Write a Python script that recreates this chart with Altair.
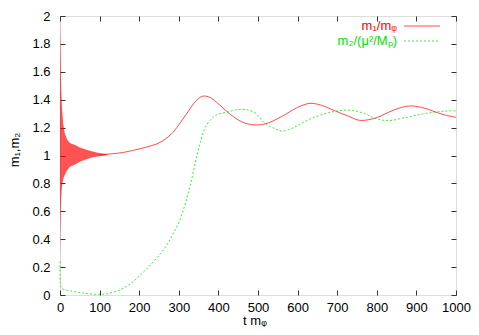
import altair as alt
import pandas as pd

# --- data ---
# fast-oscillation band of m1/m_phi at early times (envelope)
t_band = [0, 1, 2, 3, 5, 8, 12, 18, 25, 38, 50, 63, 80, 95, 110, 120]
band_lo = [0.2, 0.45, 0.6, 0.7, 0.78, 0.83, 0.86, 0.895, 0.92, 0.935, 0.955, 0.97, 0.985, 0.993, 0.999, 1.003]
band_hi = [2.0, 1.85, 1.62, 1.48, 1.34, 1.23, 1.16, 1.115, 1.09, 1.075, 1.058, 1.044, 1.03, 1.02, 1.013, 1.009]

# smooth part of m1/m_phi
t_red = [100, 130, 160, 200, 230, 250, 280, 300, 320, 340, 360, 380, 400, 430, 460, 488,
         520, 560, 600, 631, 660, 686, 730, 757, 795, 830, 860, 888, 920, 942, 970, 1000]
m1 = [1.006, 1.012, 1.022, 1.047, 1.07, 1.09, 1.15, 1.22, 1.3, 1.38, 1.425, 1.415, 1.37, 1.295, 1.24, 1.22,
      1.228, 1.28, 1.345, 1.374, 1.36, 1.33, 1.28, 1.252, 1.267, 1.31, 1.343, 1.355, 1.34, 1.318, 1.292, 1.274]

# m2/(mu^2/Mp)
t_green = [0, 1, 3, 10, 25, 45, 70, 95, 120, 150, 180, 202, 230, 252, 270, 286, 300, 315, 330, 345,
           355, 365, 378, 395, 420, 459, 490, 518, 545, 562, 590, 630, 686, 732, 770, 795, 828, 870,
           920, 970, 1000]
m2 = [0.24, 0.08, 0.055, 0.04, 0.03, 0.02, 0.01, 0.005, 0.01, 0.035, 0.085, 0.14, 0.22, 0.29, 0.36, 0.44,
      0.52, 0.64, 0.8, 0.99, 1.1, 1.19, 1.25, 1.29, 1.31, 1.331, 1.31, 1.23, 1.19, 1.175, 1.2, 1.26,
      1.312, 1.324, 1.3, 1.267, 1.25, 1.27, 1.3, 1.318, 1.32]

x_ticks = [0, 100, 200, 300, 400, 500, 600, 700, 800, 900, 1000]
y_ticks = [0, 0.2, 0.4, 0.6, 0.8, 1, 1.2, 1.4, 1.6, 1.8, 2]

legend_labels = ["m\u2081/m\u1D69", "m\u2082/(\u03BC\u00B2/M\u209A)"]
x_title = "t m\u1D69"
y_title = "m\u2081,m\u2082"

RED = "#ff0000"
GREEN = "#00e000"
FONT = "Liberation Sans"

band_df = pd.DataFrame({"t": t_band, "lo": band_lo, "hi": band_hi})
red_df = pd.DataFrame({"t": t_red, "v": m1})
green_df = pd.DataFrame({"t": t_green, "v": m2})

xs = alt.Scale(domain=[0, 1000], nice=False, zero=False)
ys = alt.Scale(domain=[0, 2], nice=False, zero=False)

common = dict(offset=-5, tickSize=5, domain=False, grid=False, tickColor="#333333",
              labelFont=FONT, labelFontSize=13, labelColor="black", title=None,
              labelFlush=False, labelOverlap=False)

x_bottom = alt.Axis(orient="bottom", values=x_ticks, labelPadding=6, format="d", **common)
y_left = alt.Axis(orient="left", values=y_ticks, labelPadding=10, format="~g", **common)
x_top = alt.Axis(orient="top", values=x_ticks, labels=False, **common)
y_right = alt.Axis(orient="right", values=y_ticks, labels=False, **common)

band = alt.Chart(band_df).mark_area(color=RED, opacity=0.68, interpolate="linear").encode(
    x=alt.X("t:Q", scale=xs, axis=x_bottom),
    y=alt.Y("lo:Q", scale=ys, axis=y_left),
    y2="hi:Q",
)

red_line = alt.Chart(red_df).mark_line(color=RED, strokeWidth=1, opacity=0.7,
                                       interpolate="catmull-rom").encode(
    x=alt.X("t:Q", scale=xs, axis=x_top),
    y=alt.Y("v:Q", scale=ys, axis=y_right),
)

green_line = alt.Chart(green_df).mark_line(color=GREEN, strokeWidth=1, opacity=0.75,
                                           strokeDash=[2, 2], interpolate="catmull-rom").encode(
    x=alt.X("t:Q", scale=xs, axis=None),
    y=alt.Y("v:Q", scale=ys, axis=None),
)

leg1 = alt.Chart(pd.DataFrame({"label": [legend_labels[0]]})).mark_text(
    align="right", baseline="middle", font=FONT, fontSize=13, color=RED
).encode(text="label:N", x=alt.value(337), y=alt.value(10))
leg2 = alt.Chart(pd.DataFrame({"label": [legend_labels[1]]})).mark_text(
    align="right", baseline="middle", font=FONT, fontSize=13, color=GREEN
).encode(text="label:N", x=alt.value(337), y=alt.value(25))
sample1 = alt.Chart(pd.DataFrame({"a": [0]})).mark_rule(color=RED, strokeWidth=1, opacity=0.7).encode(
    x=alt.value(344), x2=alt.value(380), y=alt.value(10))
sample2 = alt.Chart(pd.DataFrame({"a": [0]})).mark_rule(color=GREEN, strokeWidth=1, opacity=0.75,
                                                       strokeDash=[2, 2]).encode(
    x=alt.value(344), x2=alt.value(380), y=alt.value(25))

xt = alt.Chart(pd.DataFrame({"label": [x_title]})).mark_text(
    align="center", baseline="middle", font=FONT, fontSize=13, color="black"
).encode(text="label:N", x=alt.value(195), y=alt.value(305))
yt = alt.Chart(pd.DataFrame({"label": [y_title]})).mark_text(
    align="center", baseline="middle", font=FONT, fontSize=13, color="black", angle=270
).encode(text="label:N", x=alt.value(-45), y=alt.value(134))

chart = alt.layer(band, red_line, green_line, leg1, leg2, sample1, sample2, xt, yt).resolve_axis(
    x="independent", y="independent"
).properties(
    width=396, height=279,
    autosize=alt.AutoSizeParams(type="none"),
    padding={"left": 52, "top": 8, "right": 15, "bottom": 32},
).configure_view(stroke="#555555", strokeWidth=1).configure(background="white")

chart.save("out.html", embed_options={"renderer": "svg", "actions": False})
